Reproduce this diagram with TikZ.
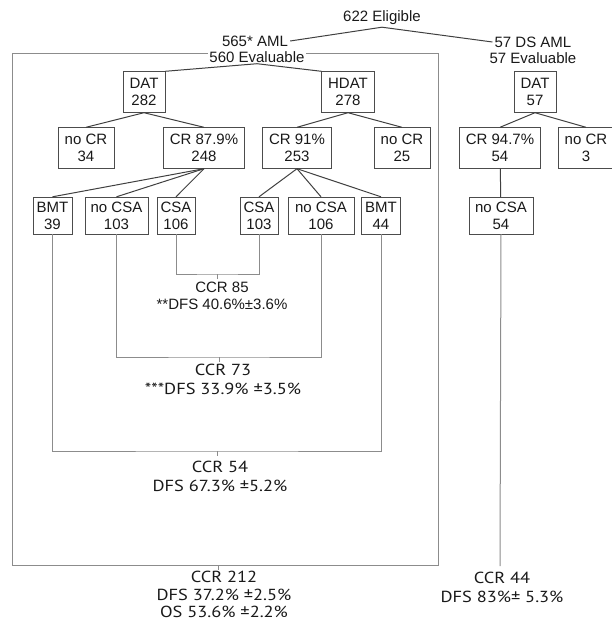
\documentclass[tikz,border=0pt]{standalone}
\usepackage{fontspec}
\setmainfont{Liberation Sans}
\newfontfamily\humfont[FakeStretch=1.15]{PT Sans}
\usetikzlibrary{positioning}

\begin{document}
\begin{tikzpicture}[
    x=1pt, y=-1pt,
    font=\fontsize{15}{17}\selectfont,
    text=black!90,
    box/.style={draw=black!70, align=center, inner xsep=6.5pt, minimum height=41pt},
    leaf/.style={draw=black!70, align=center, inner xsep=3.5pt, minimum height=37pt},
    tag/.style={align=center, inner sep=2pt},
    result/.style={align=center, inner sep=0pt, font=\humfont\fontsize{16}{18.5}\selectfont},
    line/.style={black!75, line width=1pt},
    bracket/.style={black!45, line width=1pt}
]
\useasboundingbox (0,0) rectangle (612,625);

% enrolment
\node[tag] (elig) at (382,18) {622 Eligible};
\node[tag] (aml) at (255,41) {565* AML};
\node[tag] (ds) at (533,42) {57 DS AML};
\node[tag] (dseval) at (533,58) {57 Evaluable};
\draw[bracket] (12,53) rectangle (438,565);
\node[tag, fill=white, inner sep=1pt] (eval) at (257,57) {560 Evaluable};

% induction
\node[box] (dat) at (144,92) {DAT\\282};
\node[box] (hdat) at (348,92) {HDAT\\278};
\node[box] (datds) at (535,92) {DAT\\57};

% response
\node[box] (nocrA) at (86,148) {no CR\\34};
\node[box] (crA) at (204,148) {CR 87.9\%\\248};
\node[box] (crB) at (297,148) {CR 91\%\\253};
\node[box] (nocrB) at (402,148) {no CR\\25};
\node[box] (crC) at (500,148) {CR 94.7\%\\54};
\node[box] (nocrC) at (586,148) {no CR\\3};

% post-remission
\node[leaf] (bmtA) at (52.5,215.5) {BMT\\39};
\node[leaf, minimum width=63pt] (nocsaA) at (116.5,215.5) {no CSA\\103};
\node[leaf] (csaA) at (176,215.5) {CSA\\106};
\node[leaf] (csaB) at (259,215.5) {CSA\\103};
\node[leaf, minimum width=66pt] (nocsaB) at (321,215.5) {no CSA\\106};
\node[leaf] (bmtB) at (381,215.5) {BMT\\44};
\node[leaf, minimum width=64pt] (nocsaC) at (501,215.5) {no CSA\\54};

\draw[line] (aml.east) -- (elig.south) -- (ds.west);
\draw[line] (dat.north east) -- (eval.south) -- (hdat.north west);
\draw[line] (nocrA.north) -- (dat.south) -- (crA.north);
\draw[line] (crB.north) -- (hdat.south) -- (nocrB.north);
\draw[line] (crC.north) -- (datds.south) -- (nocrC.north);
\draw[line] (crA.south) -- (bmtA.north);
\draw[line] (crA.south) -- (nocsaA.north);
\draw[line] (crA.south) -- (csaA.north);
\draw[line] (crB.south) -- (csaB.north);
\draw[line] (crB.south) -- (nocsaB.north);
\draw[line] (crB.south) -- (bmtB.north);
\draw[line] (crC) -- (nocsaC);

% outcome
\coordinate (b85) at (217,274);
\coordinate (b73) at (219,357);
\coordinate (b54) at (217,451);
\coordinate (b212) at (218,565);
\coordinate (b44) at (500,566);
\draw[bracket] (csaA.south) |- (b85) -| (csaB.south);
\draw[bracket] (nocsaA.south) |- (b73) -| (nocsaB.south);
\draw[bracket] (bmtA.south) |- (b54) -| (bmtB.south);
\draw[bracket] (nocsaC.south) -- (b44);
\foreach \b in {b85,b73,b54,b212}
    \draw[bracket] (\b) -- ++(0,5);

\node[tag, inner sep=0pt, below=8pt of b85, xshift=5pt] (r85) {CCR 85\\**DFS 40.6\%±3.6\%};
\node[result, below=7pt of b73, xshift=4pt] (r73) {CCR 73\\***DFS 33.9\% ±3.5\%};
\node[result, below=10pt of b54, xshift=3pt] (r54) {CCR 54\\DFS 67.3\% ±5.2\%};
\node[result, below=6pt of b212, xshift=6pt, font=\humfont\fontsize{16}{17.5}\selectfont] (r212) {CCR 212\\DFS 37.2\% ±2.5\%\\OS 53.6\% ±2.2\%};
\node[result, below=6pt of b44, xshift=2pt] (r44) {CCR 44\\DFS 83\%± 5.3\%};
\end{tikzpicture}
\end{document}
